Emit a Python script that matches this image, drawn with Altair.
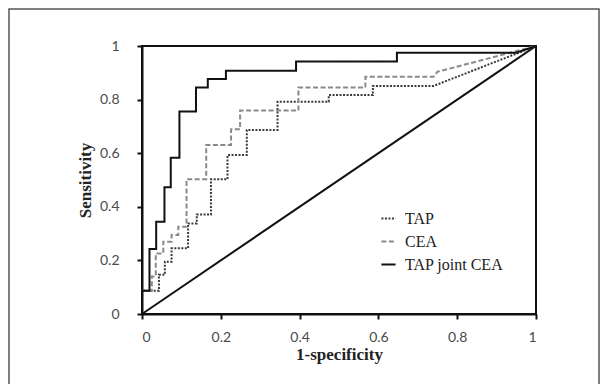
import altair as alt
import pandas as pd

# ROC curve corner points
tap_x = [0, 0, 0.043, 0.043, 0.058, 0.058, 0.075, 0.075, 0.117, 0.117, 0.139, 0.139,
         0.175, 0.175, 0.217, 0.217, 0.266, 0.266, 0.344, 0.344, 0.474, 0.474,
         0.586, 0.586, 0.74, 1]
tap_y = [0, 0.087, 0.087, 0.146, 0.146, 0.195, 0.195, 0.245, 0.245, 0.338, 0.338, 0.371,
         0.371, 0.503, 0.503, 0.593, 0.593, 0.687, 0.687, 0.792, 0.792, 0.817,
         0.817, 0.851, 0.851, 1]

cea_x = [0, 0, 0.025, 0.025, 0.035, 0.035, 0.054, 0.054, 0.075, 0.075, 0.092, 0.092,
         0.113, 0.113, 0.163, 0.163, 0.226, 0.226, 0.249, 0.249, 0.397, 0.397,
         0.567, 0.567, 0.74, 0.75, 1]
cea_y = [0, 0.087, 0.087, 0.14, 0.14, 0.226, 0.226, 0.27, 0.27, 0.295, 0.295, 0.326,
         0.326, 0.503, 0.503, 0.631, 0.631, 0.689, 0.689, 0.759, 0.759, 0.845,
         0.845, 0.885, 0.885, 0.904, 1]

joint_x = [0, 0, 0.019, 0.019, 0.036, 0.036, 0.057, 0.057, 0.073, 0.073, 0.095, 0.095,
           0.137, 0.137, 0.167, 0.167, 0.213, 0.213, 0.391, 0.391, 0.647, 0.647, 0.95, 1]
joint_y = [0, 0.087, 0.087, 0.243, 0.243, 0.344, 0.344, 0.473, 0.473, 0.583, 0.583, 0.756,
           0.756, 0.845, 0.845, 0.877, 0.877, 0.908, 0.908, 0.942, 0.942, 0.975, 0.975, 1]

diag_x = [0, 1]
diag_y = [0, 1]

series_names = ["TAP", "CEA", "TAP joint CEA"]
series_colors = ["#3a3a3a", "#8a8a8a", "#111111"]
series_dash = [[2, 1.5], [5, 2.5], [1, 0]]
tick_values = [0, 0.2, 0.4, 0.6, 0.8, 1]

rows = []
for name, xs, ys in [("TAP", tap_x, tap_y), ("CEA", cea_x, cea_y), ("TAP joint CEA", joint_x, joint_y)]:
    for i, (a, b) in enumerate(zip(xs, ys)):
        rows.append({"series": name, "fpr": a, "tpr": b, "idx": i})
df = pd.DataFrame(rows)
diag = pd.DataFrame({"fpr": diag_x, "tpr": diag_y})

x_scale = alt.Scale(domain=[0, 1], nice=False)
y_scale = alt.Scale(domain=[0, 1], nice=False)

x_axis = alt.Axis(values=tick_values, format="~g", title="1-specificity", grid=False,
                  tickSize=5, labelPadding=11, titlePadding=2)
y_axis = alt.Axis(values=tick_values, format="~g", title="Sensitivity", grid=False,
                  tickSize=5, labelPadding=18, titlePadding=5)

frame = alt.Chart(pd.DataFrame({"k": [0]})).mark_rect(
    fill=None, stroke="#555555", strokeWidth=1.5
).encode(
    x=alt.value(-133), x2=alt.value(457), y=alt.value(-37), y2=alt.value(400)
)

diag_line = alt.Chart(diag).mark_line(color="#111111", strokeWidth=2).encode(
    x=alt.X("fpr:Q", scale=x_scale, axis=x_axis),
    y=alt.Y("tpr:Q", scale=y_scale, axis=y_axis),
)

curves = alt.Chart(df).mark_line(strokeWidth=2).encode(
    x=alt.X("fpr:Q", scale=x_scale, axis=x_axis),
    y=alt.Y("tpr:Q", scale=y_scale, axis=y_axis),
    order="idx:Q",
    color=alt.Color("series:N", scale=alt.Scale(domain=series_names, range=series_colors),
                    legend=alt.Legend(title=None)),
    strokeDash=alt.StrokeDash("series:N", scale=alt.Scale(domain=series_names, range=series_dash),
                              legend=alt.Legend(title=None)),
)

chart = alt.layer(frame, diag_line, curves).properties(
    width=394, height=268,
    autosize=alt.AutoSizeParams(type="none"),
    padding={"left": 134, "top": 38, "right": 64, "bottom": 70},
    background="white",
).configure_view(
    stroke="#111111", strokeWidth=2
).configure_axis(
    domainColor="#111111", domainWidth=2, tickColor="#111111", tickWidth=2,
    labelFont="Lato", labelFontSize=14, labelColor="#4a4a4a",
    titleFont="Liberation Serif", titleFontSize=17, titleFontWeight="bold", titleColor="#222222",
).configure_legend(
    orient="none", legendX=238, legendY=164, padding=0,
    symbolType="stroke", symbolSize=200, symbolStrokeWidth=2,
    labelFont="Liberation Serif", labelFontSize=16, labelColor="#222222",
    labelOffset=8, rowPadding=6,
)

chart.save("out.html", embed_options={"renderer": "svg", "actions": False})
